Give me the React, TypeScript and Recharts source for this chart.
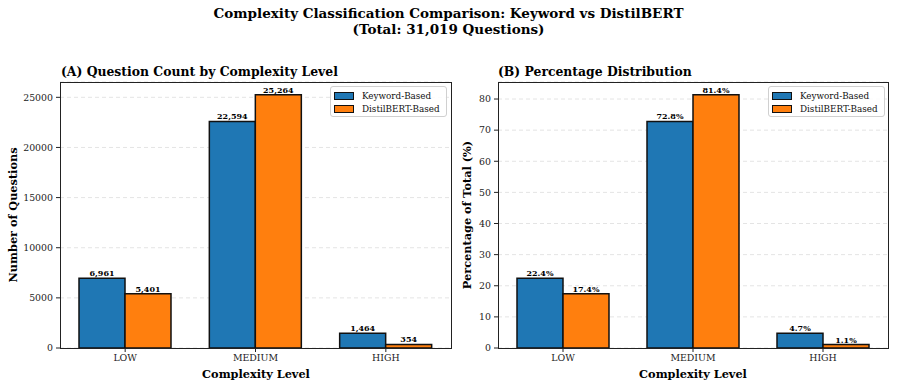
import { BarChart, Bar, XAxis, YAxis, CartesianGrid, LabelList } from "recharts";

const CATEGORIES = ["LOW", "MEDIUM", "HIGH"];
const KEYWORD_COUNTS = [6961, 22594, 1464];
const DISTIL_COUNTS = [5401, 25264, 354];
const KEYWORD_PCT = [22.4, 72.8, 4.7];
const DISTIL_PCT = [17.4, 81.4, 1.1];
const COUNT_TICKS = [0, 5000, 10000, 15000, 20000, 25000];
const PCT_TICKS = [0, 10, 20, 30, 40, 50, 60, 70, 80];
const SERIES_NAMES = ["Keyword-Based", "DistilBERT-Based"];

const BLUE = "#1f77b4";
const ORANGE = "#ff7f0e";
const FONT = "'DejaVu Serif', serif";

const countData = CATEGORIES.map((c, i) => ({ cat: c, kw: KEYWORD_COUNTS[i], db: DISTIL_COUNTS[i] }));
const pctData = CATEGORIES.map((c, i) => ({ cat: c, kw: KEYWORD_PCT[i], db: DISTIL_PCT[i] }));

function LegendBox({ left }: { left: number }) {
  const colors = [BLUE, ORANGE];
  return (
    <div
      style={{
        position: "absolute",
        left,
        top: 86,
        width: 117,
        height: 31,
        border: "1px solid #d0d0d0",
        borderRadius: 3,
        background: "rgba(255,255,255,0.85)",
        fontFamily: FONT,
        fontSize: 8.8,
        color: "#111",
        boxSizing: "border-box",
        padding: "3px 0 0 3px",
      }}
    >
      {SERIES_NAMES.map((n, i) => (
        <div key={n} style={{ display: "flex", alignItems: "center", height: 12.5 }}>
          <span
            style={{
              display: "inline-block",
              width: 18,
              height: 6,
              background: colors[i],
              border: "1.2px solid #111",
              marginRight: 8,
            }}
          />
          <span>{n}</span>
        </div>
      ))}
    </div>
  );
}

type PanelProps = {
  data: { cat: string; kw: number; db: number }[];
  ticks: number[];
  maxVal: number;
  fmt: (v: any) => string;
  width: number;
  yWidth: number;
  left: number;
};

function Panel({ data, ticks, maxVal, fmt, width, yWidth, left }: PanelProps) {
  const tickStyle = { fontSize: 9.4, fill: "#222", fontFamily: FONT };
  const labelProps = { fontSize: 8, fontWeight: "bold", fill: "#000", stroke: "none", fontFamily: FONT };
  return (
    <div style={{ position: "absolute", left, top: 0, fontFamily: FONT }}>
      <BarChart
        width={width}
        height={388}
        data={data}
        margin={{ top: 82, right: 9, bottom: 10, left: 0 }}
        barGap={0}
        style={{ fontFamily: FONT }}
      >
        <CartesianGrid vertical={false} stroke="#e4e4e4" strokeDasharray="4 3" />
        <XAxis
          dataKey="cat"
          height={30}
          axisLine={false}
          tickSize={4}
          tickMargin={2}
          tickLine={{ stroke: "#222" }}
          tick={tickStyle}
        />
        <YAxis
          width={yWidth}
          domain={[0, maxVal * 1.05]}
          ticks={ticks}
          axisLine={false}
          tickSize={4}
          tickMargin={3}
          tickLine={{ stroke: "#222" }}
          tick={tickStyle}
          allowDataOverflow
        />
        <Bar dataKey="kw" name={SERIES_NAMES[0]} fill={BLUE} stroke="#111" strokeWidth={1.5} barSize={46} isAnimationActive={false}>
          <LabelList dataKey="kw" position="top" offset={2} formatter={fmt} {...labelProps} style={labelProps} />
        </Bar>
        <Bar dataKey="db" name={SERIES_NAMES[1]} fill={ORANGE} stroke="#111" strokeWidth={1.5} barSize={46} isAnimationActive={false}>
          <LabelList dataKey="db" position="top" offset={2} formatter={fmt} {...labelProps} style={labelProps} />
        </Bar>
      </BarChart>
    </div>
  );
}

export default function App() {
  const countMax = Math.max(...KEYWORD_COUNTS, ...DISTIL_COUNTS);
  const pctMax = Math.max(...KEYWORD_PCT, ...DISTIL_PCT);
  return (
    <div style={{ position: "absolute", left: 0, top: 0, width: 897, height: 388, background: "#fff", fontFamily: FONT }}>
      <Panel
        data={countData}
        ticks={COUNT_TICKS}
        maxVal={countMax}
        fmt={(v) => Number(v).toLocaleString("en-US")}
        width={460}
        yWidth={60}
        left={0}
      />
      <Panel
        data={pctData}
        ticks={PCT_TICKS}
        maxVal={pctMax}
        fmt={(v) => `${Number(v).toFixed(1)}%`}
        width={457}
        yWidth={58}
        left={440}
      />
      <svg width={897} height={388} style={{ position: "absolute", left: 0, top: 0, pointerEvents: "none" }}>
        <g fontFamily={FONT} fill="#000">
          <text x={448.5} y={18} textAnchor="middle" fontSize={13.5} fontWeight="bold">
            Complexity Classification Comparison: Keyword vs DistilBERT
          </text>
          <text x={448.5} y={34} textAnchor="middle" fontSize={13.5} fontWeight="bold">
            (Total: 31,019 Questions)
          </text>
          <text x={61} y={76} fontSize={12.4} fontWeight="bold">(A) Question Count by Complexity Level</text>
          <text x={498} y={76} fontSize={12.4} fontWeight="bold">(B) Percentage Distribution</text>
          <text x={256} y={378} textAnchor="middle" fontSize={11.3} fontWeight="bold">Complexity Level</text>
          <text x={693} y={378} textAnchor="middle" fontSize={11.3} fontWeight="bold">Complexity Level</text>
          <text transform="translate(17,215) rotate(-90)" textAnchor="middle" fontSize={11.3} fontWeight="bold">
            Number of Questions
          </text>
          <text transform="translate(471,215) rotate(-90)" textAnchor="middle" fontSize={11.3} fontWeight="bold">
            Percentage of Total (%)
          </text>
        </g>
        <rect x={60.5} y={82.5} width={391} height={266} fill="none" stroke="#222" strokeWidth={1} />
        <rect x={498.5} y={82.5} width={390} height={266} fill="none" stroke="#222" strokeWidth={1} />
      </svg>
      <LegendBox left={330} />
      <LegendBox left={768} />
    </div>
  );
}
